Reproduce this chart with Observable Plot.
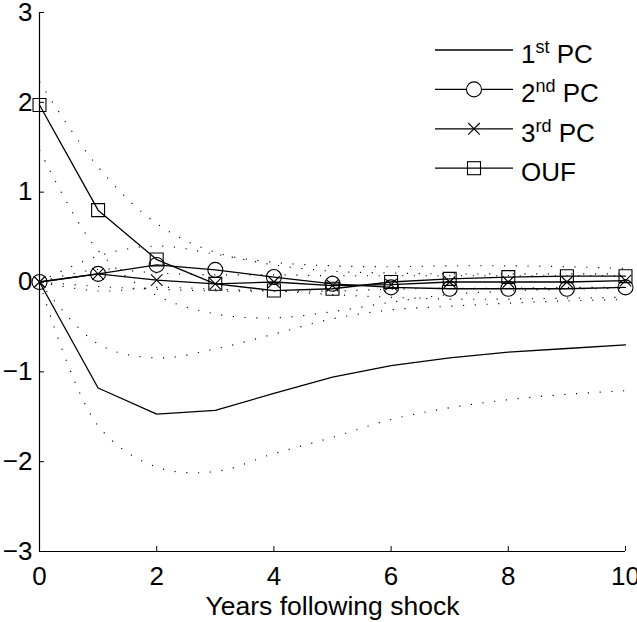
<!DOCTYPE html>
<html>
<head>
<meta charset="utf-8">
<script src="https://cdn.jsdelivr.net/npm/d3@7"></script>
<script src="https://cdn.jsdelivr.net/npm/@observablehq/plot@0.6"></script>
<style>
  html, body { margin: 0; padding: 0; background: #fff; }
  #chart { width: 637px; height: 622px; }
</style>
</head>
<body>
<div id="chart"></div>
<script>
// ---- data ----
const years = [0, 1, 2, 3, 4, 5, 6, 7, 8, 9, 10];
const xTicks = [0, 2, 4, 6, 8, 10];
const yTicks = [-3, -2, -1, 0, 1, 2, 3];

const pc1 = [0, -1.18, -1.47, -1.43, -1.24, -1.06, -0.93, -0.845, -0.78, -0.74, -0.70];
const pc2 = [0, 0.09, 0.19, 0.135, 0.055, -0.02, -0.06, -0.075, -0.075, -0.075, -0.06];
const pc3 = [0, 0.09, 0.02, -0.02, 0.0, -0.04, -0.03, 0.0, 0.0, 0.0, 0.015];
const ouf = [1.97, 0.80, 0.25, -0.02, -0.095, -0.075, 0.0, 0.035, 0.055, 0.065, 0.065];

// confidence bands (dotted)
const pc1Upper = [0, -0.69, -0.845, -0.745, -0.58, -0.41, -0.31, -0.27, -0.236, -0.21, -0.195];
const pc1Lower = [0, -1.60, -2.06, -2.11, -1.91, -1.73, -1.53, -1.40, -1.31, -1.25, -1.21];
const pc2Upper = [0, 0.29, 0.40, 0.31, 0.19, 0.12, 0.10, 0.09, 0.09, 0.09, 0.09];
const pc2Lower = [0, -0.10, -0.06, -0.08, -0.10, -0.14, -0.17, -0.19, -0.19, -0.18, -0.17];
const pc3Upper = [0, 0.14, 0.10, 0.08, 0.08, 0.07, 0.07, 0.07, 0.07, 0.07, 0.07];
const pc3Lower = [0, -0.05, -0.08, -0.10, -0.10, -0.10, -0.08, -0.07, -0.07, -0.06, -0.06];
const oufUpper = [2.23, 1.28, 0.65, 0.33, 0.22, 0.18, 0.17, 0.18, 0.18, 0.17, 0.15];
const oufLower = [1.47, 0.35, -0.15, -0.355, -0.40, -0.33, -0.225, -0.14, -0.10, -0.08, -0.07];

const seriesNames = ["1st PC", "2nd PC", "3rd PC", "OUF"];
const xLabel = "Years following shock";

// ---- tables ----
const seriesValues = [pc1, pc2, pc3, ouf];
const series = seriesValues.flatMap((vals, i) =>
  years.map((t, j) => ({ name: seriesNames[i], t, v: vals[j] })));

const bandList = [
  ["pc1U", pc1Upper], ["pc1L", pc1Lower],
  ["pc2U", pc2Upper], ["pc2L", pc2Lower],
  ["pc3U", pc3Upper], ["pc3L", pc3Lower],
  ["oufU", oufUpper], ["oufL", oufLower]
];
const bands = bandList.flatMap(([k, vals]) => years.map((t, j) => ({ band: k, t, v: vals[j] })));

const FONT = "'Liberation Sans', Arial, Helvetica, sans-serif";
const FS = 26;
const LW = 1.3;
const W = 637, H = 622, ML = 39, MR = 12, MT = 12, MB = 71;
const TICK = 5;
const dotted = { stroke: "#000", strokeWidth: 1.15, strokeDasharray: "1.15 10.6", strokeLinecap: "butt" };
const fmt = d3.format("d");

const only = name => series.filter(d => d.name === name);

const chart = Plot.plot({
  width: W,
  height: H,
  marginLeft: ML,
  marginRight: MR,
  marginTop: MT,
  marginBottom: MB,
  style: { fontFamily: FONT, fontSize: FS + "px", background: "#fff", color: "#000" },
  x: { domain: [0, 10] },
  y: { domain: [-3, 3] },
  marks: [
    Plot.line(bands, { x: "t", y: "v", z: "band", curve: "catmull-rom", ...dotted }),
    Plot.line(series, { x: "t", y: "v", z: "name", stroke: "#000", strokeWidth: LW }),
    Plot.dot(only("2nd PC"), { x: "t", y: "v", symbol: "circle", r: 7.5, stroke: "#000", strokeWidth: 1.1, fill: "none" }),
    Plot.dot(only("3rd PC"), { x: "t", y: "v", symbol: "times", r: 5.3, stroke: "#000", strokeWidth: 1.1, fill: "none" }),
    Plot.dot(only("OUF"), { x: "t", y: "v", symbol: "square", r: 7.3, stroke: "#000", strokeWidth: 1.1, fill: "none" }),
    // axis lines (box off: left and bottom only)
    Plot.ruleX([0], { stroke: "#000", strokeWidth: 1.2 }),
    Plot.ruleY([-3], { stroke: "#000", strokeWidth: 1.2 }),
    // inward ticks
    Plot.tickX(xTicks, { x: d => d, stroke: "#000", strokeWidth: 1, insetTop: H - MT - MB - TICK }),
    Plot.tickY(yTicks, { y: d => d, stroke: "#000", strokeWidth: 1, insetRight: W - ML - MR - TICK }),
    // tick labels
    Plot.axisX({ ticks: xTicks, tickSize: 0, tickPadding: 15, tickFormat: fmt, label: null }),
    Plot.axisY({ ticks: yTicks, tickSize: 0, tickPadding: 7, tickFormat: fmt, label: null }),
    Plot.text([xLabel], { frameAnchor: "bottom", dy: 63, fontSize: FS + 0.5, fill: "#000" })
  ]
});

document.getElementById("chart").appendChild(chart);

// ---- legend (inside the axes, top right) ----
const svgNode = chart.tagName.toLowerCase() === "svg" ? chart : chart.querySelector("svg");
const svg = d3.select(svgNode);
const lg = svg.append("g").attr("font-family", FONT).attr("fill", "#000").attr("text-anchor", "start");
const x0 = 435, x1 = 513, xm = 474, xt = 521, y0 = 50, dyRow = 39.4;
const supers = [["1", "st"], ["2", "nd"], ["3", "rd"], ["OUF", null]];
seriesNames.forEach((name, i) => {
  const y = y0 + i * dyRow;
  lg.append("line").attr("x1", x0).attr("x2", x1).attr("y1", y).attr("y2", y)
    .attr("stroke", "#000").attr("stroke-width", LW);
  if (i === 1) lg.append("circle").attr("cx", xm).attr("cy", y).attr("r", 7.5)
    .attr("fill", "#fff").attr("stroke", "#000").attr("stroke-width", 1.1);
  if (i === 2) lg.append("path").attr("d", `M${xm-5.8},${y-5.8}L${xm+5.8},${y+5.8}M${xm-5.8},${y+5.8}L${xm+5.8},${y-5.8}`)
    .attr("stroke", "#000").attr("stroke-width", 1.1);
  if (i === 3) lg.append("rect").attr("x", xm - 6.5).attr("y", y - 6.5).attr("width", 13).attr("height", 13)
    .attr("fill", "none").attr("stroke", "#000").attr("stroke-width", 1.1);
  const t = lg.append("text").attr("x", xt).attr("y", y + 13).attr("font-size", FS).attr("text-anchor", "start");
  const [base, sup] = supers[i];
  if (sup) {
    t.append("tspan").text(base);
    t.append("tspan").attr("font-size", 18).attr("dy", -10).text(sup);
    t.append("tspan").attr("dy", 10).text(" PC");
  } else {
    t.text(base);
  }
});
</script>
</body>
</html>
